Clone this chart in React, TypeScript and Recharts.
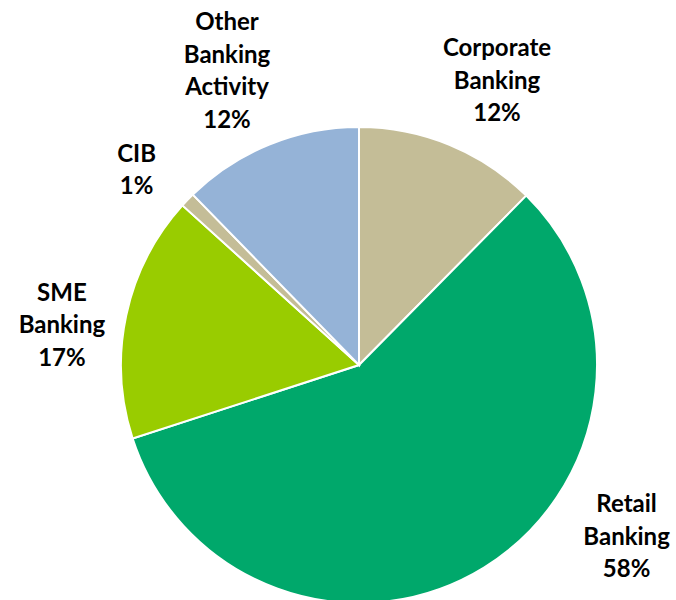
import { Cell, Pie, PieChart } from "recharts";

// Share of business by segment (clockwise from 12 o'clock)
const segments = ["Corporate Banking", "Retail Banking", "SME Banking", "CIB", "Other Banking Activity"];
const shares = [12.4, 57.6, 16.7, 1.0, 12.3];
const labelLines = [
  ["Corporate", "Banking"],
  ["Retail", "Banking"],
  ["SME", "Banking"],
  ["CIB"],
  ["Other", "Banking", "Activity"],
];

const COLORS = ["#C4BD97", "#00A86B", "#99CC00", "#C4BD97", "#95B3D7"];
// Excel-style "best fit" label placement: rotate (clockwise deg) and distance from centre
const LABEL_SHIFT = [3.4, -25.9, -4.1, -2.4, -1.9];
const LABEL_DIST = [318, 317, 300, 297, 324];
const LINE_H = 32.5;

const data = segments.map((name, i) => ({ name, value: shares[i] }));

const RAD = Math.PI / 180;

function renderLabel(props: any) {
  const { cx, cy, midAngle, index, percent } = props;
  const angle = midAngle - LABEL_SHIFT[index];
  const r = LABEL_DIST[index];
  const x = cx + r * Math.cos(-angle * RAD);
  const y = cy + r * Math.sin(-angle * RAD);
  const lines = [...labelLines[index], `${Math.round(percent * 100)}%`];
  const top = y - ((lines.length - 1) * LINE_H) / 2;
  return (
    <text
      x={x}
      y={top}
      textAnchor="middle"
      dominantBaseline="central"
      fill="#000"
      style={{ fontFamily: "Lato, 'Open Sans', sans-serif", fontWeight: 700, fontSize: 24 }}
    >
      {lines.map((l, i) => (
        <tspan key={i} x={x} dy={i === 0 ? 0 : LINE_H}>
          {l}
        </tspan>
      ))}
    </text>
  );
}

export default function App() {
  return (
    <div style={{ position: "absolute", left: 0, top: 0, background: "#fff" }}>
      <PieChart width={676} height={600} margin={{ top: 0, right: 0, bottom: 0, left: 0 }}>
        <Pie
          data={data}
          dataKey="value"
          nameKey="name"
          cx={359}
          cy={365}
          outerRadius={238}
          startAngle={90}
          endAngle={-270}
          stroke="#fff"
          strokeWidth={2}
          label={renderLabel}
          labelLine={false}
          isAnimationActive={false}
        >
          {data.map((d, i) => (
            <Cell key={d.name} fill={COLORS[i]} />
          ))}
        </Pie>
      </PieChart>
    </div>
  );
}
